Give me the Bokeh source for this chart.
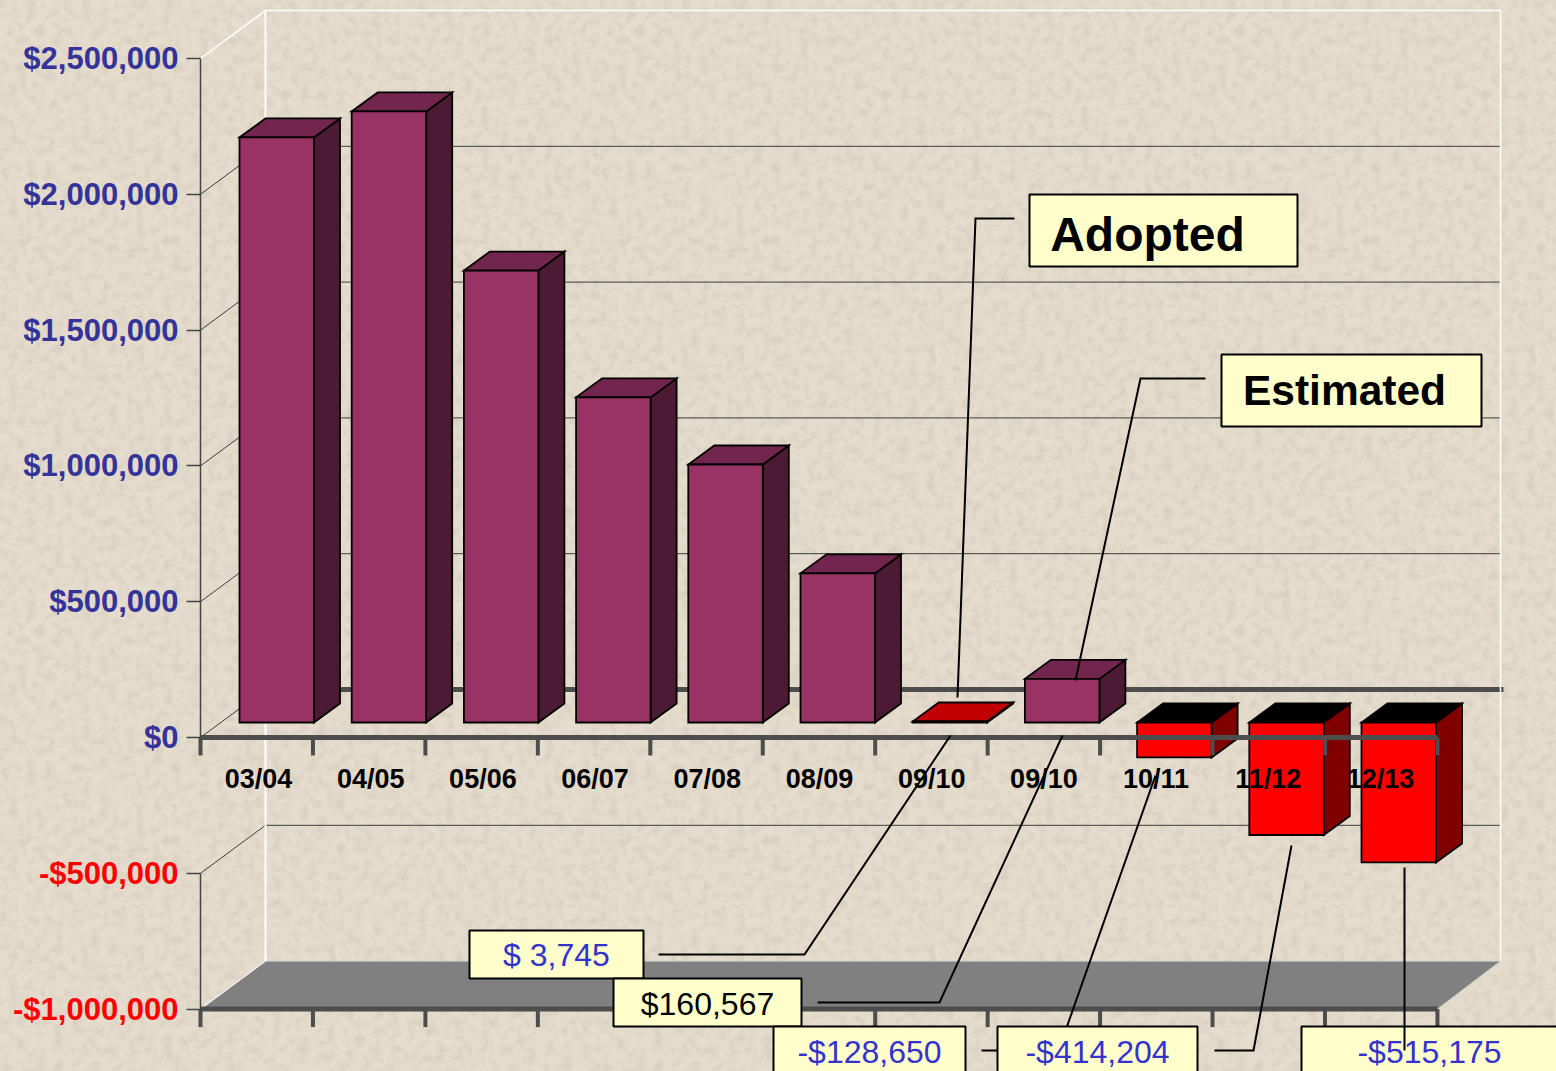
from urllib.parse import quote
from bokeh.plotting import figure
from bokeh.models import LinearAxis, FixedTicker, Range1d
from bokeh.core.properties import value
from bokeh.embed import file_html
from bokeh.resources import INLINE

# ---- data -------------------------------------------------------------
categories = ["03/04", "04/05", "05/06", "06/07", "07/08", "08/09",
              "09/10", "09/10", "10/11", "11/12", "12/13"]
balances = [2154000, 2250000, 1664000, 1197000, 950000, 549000,
            3745, 160567, -128650, -414204, -515175]
positive_ticks = [0, 500000, 1000000, 1500000, 2000000, 2500000]
negative_ticks = [-500000, -1000000]
positive_labels = ["$0", "$500,000", "$1,000,000", "$1,500,000", "$2,000,000", "$2,500,000"]
negative_labels = ["-$500,000", "-$1,000,000"]
adopted_index = 6

# ---- layout (window pixels) --------------------------------------------
W, H = 1556, 1071
X0, Y0 = 200.0, 737.0          # window position of category 0 / $0
CAT_PX = 112.45                # pixels per category
BAR_STEP = 112.2 / CAT_PX      # bars and labels sit slightly tighter than the ticks
PX_PER_USD = 679.0 / 2500000   # pixels per dollar
FONT = value("Liberation Sans")


def fx(px):
    return (px - X0) / CAT_PX


def fy(py):
    return (Y0 - py) / PX_PER_USD


DX_PX = lambda d: d / CAT_PX
DY_PX = lambda d: d / PX_PER_USD

p = figure(width=W, height=H, output_backend="svg", toolbar_location=None,
           x_axis_type=None, y_axis_type=None, min_border=0,
           x_range=Range1d(fx(0), fx(W)), y_range=Range1d(fy(H), fy(0)))
p.background_fill_alpha = 0
p.border_fill_alpha = 0
p.outline_line_color = None
p.grid.visible = False

# ---- walls and floor ----------------------------------------------------
BACK_X, BACK_Y = 65, 48
n = len(categories)
x_end = float(n)
top_val, bot_val = positive_ticks[-1], negative_ticks[-1]
bx = DX_PX(BACK_X)
by = DY_PX(BACK_Y)

p.patch([0, x_end, x_end + bx * 0.97, bx], [bot_val, bot_val, bot_val + by, bot_val + by],
        fill_color="#808080", line_color="#d0d0d0", line_width=1, level="underlay")

for t in positive_ticks + negative_ticks:
    if t in (top_val, bot_val):
        continue
    p.line([0, bx, fx(1500)], [t, t + by, t + by],
           line_color="#3c3c3c", line_width=1, level="underlay")
    if t == 0:
        p.line([bx, fx(1503)], [t + by, t + by], line_color="#4d4d4d",
               line_width=5, level="underlay")

# white wall edges
p.line([0, bx, fx(1500), fx(1500)], [top_val, top_val + by, top_val + by, bot_val + by],
       line_color="#ffffff", line_width=1.5, level="underlay")
p.line([bx, bx], [top_val + by, bot_val + by], line_color="#ffffff", line_width=2, level="underlay")
p.line([0, bx], [bot_val, bot_val + by], line_color="#ffffff", line_width=1, level="underlay")

# ---- 3D bars ------------------------------------------------------------
BAR_OFF_X, BAR_OFF_Y = DX_PX(39), DY_PX(15)
BAR_W = DX_PX(74.5)
DEPTH_X, DEPTH_Y = DX_PX(26), DY_PX(19)

for i, v in enumerate(balances):
    l = i * BAR_STEP + BAR_OFF_X
    r = l + BAR_W
    base = BAR_OFF_Y
    top = v + BAR_OFF_Y
    hi, lo = max(base, top), min(base, top)
    if i == adopted_index:
        front, roof, side = "#ff0000", "#c00000", "#800000"
    elif v < 0:
        front, roof, side = "#ff0000", "#000000", "#800000"
    else:
        front, roof, side = "#993366", "#72264d", "#4d1a33"
    style = dict(line_color="#000000", line_width=1.8, line_join="miter")
    p.patch([r, r + DEPTH_X, r + DEPTH_X, r], [lo, lo + DEPTH_Y, hi + DEPTH_Y, hi],
            fill_color=side, **style)
    p.patch([l, r, r + DEPTH_X, l + DEPTH_X], [hi, hi, hi + DEPTH_Y, hi + DEPTH_Y],
            fill_color=roof, **style)
    p.patch([l, r, r, l], [lo, lo, hi, hi], fill_color=front, **style)

# ---- axes ---------------------------------------------------------------
for ticks, labels, color in ((positive_ticks, positive_labels, "#333399"),
                             (negative_ticks, negative_labels, "#ff0000")):
    ax = LinearAxis(fixed_location=0, ticker=FixedTicker(ticks=ticks),
                    major_label_overrides=dict(zip(ticks, labels)),
                    bounds=(min(ticks), max(ticks)))
    ax.axis_line_color = "#444444"
    ax.axis_line_width = 1.5
    ax.major_tick_line_color = "#444444"
    ax.major_tick_line_width = 1.5
    ax.major_tick_out = 14
    ax.major_tick_in = 0
    ax.minor_tick_line_color = None
    ax.major_label_standoff = 8
    ax.major_label_text_font = "Liberation Sans"
    ax.major_label_text_font_style = "bold"
    ax.major_label_text_font_size = "31px"
    ax.major_label_text_color = color
    p.add_layout(ax, "left")

# thick category axis lines with their ticks, at $0 and at the bottom of the scale
tick_pos = list(range(n + 1))
TICK_LEN = DY_PX(18)
for at in (0, bot_val):
    p.line([0, x_end], [at, at], line_color="#4d4d4d", line_width=5, level="guide")
    p.segment(tick_pos, [at] * len(tick_pos), tick_pos, [at - TICK_LEN] * len(tick_pos),
              line_color="#4d4d4d", line_width=4, level="guide")

label_pos = [fx(258) + i * BAR_STEP for i in range(n)]
cat_axis = LinearAxis(fixed_location=0, ticker=FixedTicker(ticks=label_pos),
                      major_label_overrides=dict(zip(label_pos, categories)))
cat_axis.axis_line_color = None
cat_axis.major_tick_line_color = None
cat_axis.minor_tick_line_color = None
cat_axis.major_tick_out = 0
cat_axis.major_tick_in = 0
cat_axis.major_label_standoff = 26
cat_axis.major_label_text_font = "Liberation Sans"
cat_axis.major_label_text_font_style = "bold"
cat_axis.major_label_text_font_size = "27px"
cat_axis.major_label_text_color = "#000000"
p.add_layout(cat_axis, "below")


# ---- callouts -----------------------------------------------------------
def leader(path):
    p.line([fx(a) for a, _ in path], [fy(b) for _, b in path],
           line_color="#000000", line_width=2, level="overlay", line_join="miter")


def callout(box, text, color, size, bold=False, tx=None, ty=None):
    x1, y1, x2, y2 = box
    p.quad(left=[fx(x1)], right=[fx(x2)], top=[fy(y1)], bottom=[fy(y2)],
           fill_color="#ffffcc", line_color="#000000", line_width=2, level="overlay")
    p.text(x=[fx(tx if tx is not None else (x1 + x2) / 2)], y=[fy(ty if ty is not None else (y1 + y2) / 2)],
           text=[text], text_font=FONT, text_font_size=value(size),
           text_font_style="bold" if bold else "normal",
           text_color=color, text_align="center", text_baseline="middle", level="overlay")


leader([(1014, 218), (975, 218), (957, 697)])
callout((1029, 194, 1297, 266), "Adopted", "#000000", "48px", True, tx=1147, ty=234)
leader([(1205, 378), (1140, 378), (1075, 680)])
callout((1221, 354, 1481, 426), "Estimated", "#000000", "42.5px", True, tx=1344)

callout((469, 930, 643, 978), "$ 3,745", "#3333cc", "32px")
leader([(658, 954), (804, 954), (950, 735)])
callout((613, 978, 801, 1026), "$160,567", "#000000", "32px", ty=1003)
leader([(817, 1002), (939, 1002), (1062, 735)])
callout((773, 1026, 965, 1090), "-$128,650", "#3333cc", "32px", ty=1051)
leader([(981, 1050), (1058, 1050), (1155, 775)])
callout((997, 1026, 1197, 1090), "-$414,204", "#3333cc", "32px", ty=1051)
leader([(1214, 1050), (1253, 1050), (1291, 845)])
callout((1301, 1026, 1580, 1090), "-$515,175", "#3333cc", "32px", tx=1429, ty=1051)
leader([(1404, 867), (1404, 1050)])

# ---- page: stone-like backdrop behind the transparent figure --------------
noise = ("<svg xmlns='http://www.w3.org/2000/svg' width='600' height='600'>"
         "<filter id='a'><feTurbulence type='fractalNoise' baseFrequency='0.11' numOctaves='4' seed='4'/>"
         "<feColorMatrix values='0 0 0 0 0.52 0 0 0 0 0.47 0 0 0 0 0.38 0.8 0 0 0 -0.33'/></filter>"
         "<rect width='600' height='600' filter='url(#a)'/></svg>")
css = ("<style>html,body{overflow:hidden;background-color:#e5dccd;background-image:url(\"data:image/svg+xml,"
       + quote(noise) + "\");}</style>")
html = file_html(p, INLINE).replace("</head>", css + "</head>", 1)
open("out.html", "w").write(html)
